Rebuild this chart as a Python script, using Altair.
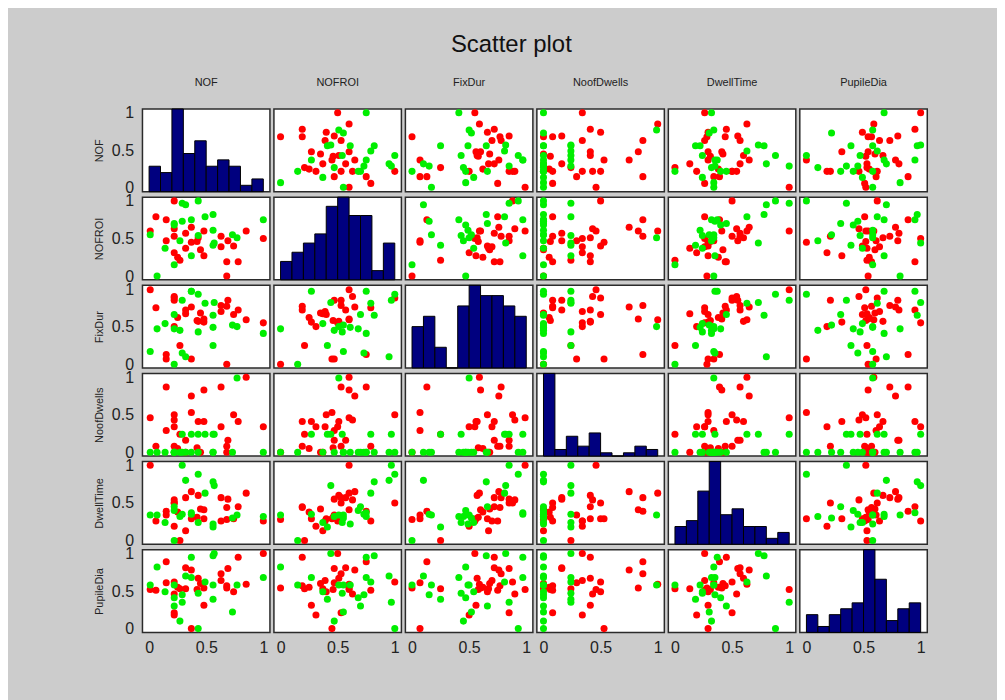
import altair as alt
import pandas as pd

VARS = ["NOF", "NOFROI", "FixDur", "NoofDwells", "DwellTime", "PupileDia"]

# class of each observation: r = red group, g = green group
GROUP = ["r"] * 28 + ["g"] * 22

NOF = [1.00, 0.85, 0.68, 0.78, 0.68, 0.74, 0.63, 0.69, 0.63, 0.48, 0.48, 0.43, 0.37, 0.37,
       0.32, 0.32, 0.27, 0.22, 0.22, 0.22, 0.22, 0.15, 0.15, 0.06, 0.01, 0.25, 0.45, 0.42,
       1.00, 0.77, 0.56, 0.56, 0.56, 0.49, 0.43, 0.43, 0.37, 0.37, 0.27, 0.29, 0.22, 0.22,
       0.14, 0.07, 0.01, 0.73, 0.57, 0.32, 0.29, 0.22]
NOFROI = [0.50, 0.60, 0.00, 0.19, 0.19, 0.40, 0.39, 0.47, 0.53, 0.27, 0.60, 0.51, 0.45, 0.65,
          0.37, 0.57, 0.21, 0.31, 0.53, 0.63, 1.00, 0.47, 0.75, 0.79, 0.60, 0.25, 0.35, 0.46,
          0.75, 0.51, 0.41, 0.61, 0.82, 0.79, 0.54, 1.00, 0.27, 0.75, 0.47, 0.97, 0.15, 0.70,
          0.37, 0.00, 0.55, 0.55, 0.44, 0.95, 0.73, 0.68]
FIXDUR = [0.55, 0.59, 0.00, 0.72, 0.77, 0.66, 0.70, 0.85, 0.78, 0.56, 0.60, 0.57, 0.07, 0.76,
          0.67, 0.72, 0.25, 0.50, 0.85, 0.90, 0.88, 0.07, 0.13, 0.75, 0.99, 0.62, 0.68, 0.58,
          0.41, 0.50, 0.25, 0.49, 0.65, 0.81, 0.43, 0.93, 0.97, 0.97, 0.45, 0.85, 0.00, 0.66,
          0.54, 0.47, 0.17, 0.52, 0.82, 0.10, 0.15, 0.47]
NOOFDWELLS = [0.34, 1.00, 0.00, 0.41, 0.08, 0.50, 0.34, 0.16, 0.87, 0.41, 0.83, 0.41, 0.53, 0.75,
              0.00, 0.16, 0.24, 0.34, 0.08, 0.43, 0.50, 0.29, 0.87, 0.08, 0.46, 0.05, 0.00, 0.06,
              0.00, 0.99, 0.24, 0.00, 0.00, 0.24, 0.24, 0.00, 0.24, 0.00, 0.00, 0.24, 0.00, 0.00,
              0.00, 0.00, 0.00, 0.00, 0.24, 0.00, 0.00, 0.00]
DWELLTIME = [0.26, 0.63, 0.28, 0.45, 0.44, 0.29, 0.26, 0.55, 0.57, 0.29, 0.41, 0.60, 0.29, 0.65,
             0.13, 0.57, 0.00, 0.19, 0.50, 0.54, 0.50, 0.34, 0.39, 0.26, 1.00, 0.38, 0.42, 0.31,
             0.32, 0.34, 0.18, 0.22, 0.78, 0.63, 0.24, 0.88, 0.35, 0.37, 0.32, 1.00, 0.00, 0.45,
             0.24, 0.34, 0.34, 0.30, 0.73, 0.80, 0.35, 0.40]
PUPILEDIA = [1.00, 0.59, 0.54, 0.95, 0.57, 0.49, 0.64, 0.80, 0.73, 0.31, 0.54, 0.67, 0.00, 0.78,
             0.53, 0.81, 0.53, 0.18, 0.21, 0.46, 0.62, 0.61, 0.89, 0.51, 0.52, 0.55, 0.60, 0.52,
             0.68, 0.58, 0.39, 0.58, 0.97, 0.62, 0.47, 0.00, 0.68, 0.95, 0.10, 0.35, 0.58, 0.30,
             0.49, 0.82, 0.58, 0.22, 1.00, 0.70, 0.45, 0.41]

# histogram (diagonal) bin edges and counts
BIN_START = [0.0, 0.1, 0.2, 0.3, 0.4, 0.5, 0.6, 0.7, 0.8, 0.9]
BIN_END = [0.1, 0.2, 0.3, 0.4, 0.5, 0.6, 0.7, 0.8, 0.9, 1.0]
HIST_NOF = [4, 3, 13, 6, 8, 4, 5, 4, 1, 2]
HIST_NOFROI = [2, 3, 4, 5, 8, 9, 7, 7, 1, 4]
HIST_FIXDUR = [4, 5, 2, 0, 6, 8, 7, 7, 6, 5]
HIST_NOOFDWELLS = [25, 2, 6, 3, 7, 1, 0, 1, 3, 2]
HIST_DWELLTIME = [3, 4, 9, 14, 5, 6, 3, 3, 1, 2]
HIST_PUPILEDIA = [3, 1, 3, 4, 5, 14, 9, 2, 4, 5]

TICKS = [0, 0.5, 1]

df = pd.DataFrame({
    "group": GROUP, "NOF": NOF, "NOFROI": NOFROI, "FixDur": FIXDUR,
    "NoofDwells": NOOFDWELLS, "DwellTime": DWELLTIME, "PupileDia": PUPILEDIA,
})
hists = {
    "NOF": HIST_NOF, "NOFROI": HIST_NOFROI, "FixDur": HIST_FIXDUR,
    "NoofDwells": HIST_NOOFDWELLS, "DwellTime": HIST_DWELLTIME, "PupileDia": HIST_PUPILEDIA,
}

W, H = 128, 83
FONT = "Liberation Sans"
TXT = "#222222"
XS = alt.Scale(domain=[-0.058, 1.058], nice=False, zero=False)
YS = alt.Scale(domain=[-0.05, 1.05], nice=False, zero=False)
COLOR = alt.Color("group:N", scale=alt.Scale(domain=["r", "g"], range=["#ff0000", "#00ee00"]),
                  legend=None)


def xaxis():
    return alt.Axis(values=TICKS, format="~g", domain=False, ticks=False, grid=False,
                    labelFontSize=16, labelColor=TXT, labelPadding=7, title=None,
                    labelFont=FONT)


def yaxis(title):
    return alt.Axis(values=TICKS, format="~g", domain=False, ticks=False, grid=False,
                    labelFontSize=16, labelColor=TXT, labelPadding=9, title=title,
                    titleFontSize=11, titleFontWeight="normal", titleColor=TXT,
                    titlePadding=7, titleFont=FONT, labelFont=FONT, orient="left")


def col_title(name, off):
    return alt.TitleParams(text=name, fontSize=11, fontWeight="normal", color=TXT,
                           offset=off, font=FONT, anchor="middle")


def panel(r, c):
    xv, yv = VARS[c], VARS[r]
    if r == c:
        counts = hists[xv]
        hdf = pd.DataFrame({"b0": BIN_START, "b1": BIN_END, "count": counts})
        bars = alt.Chart(hdf).mark_bar(color="#00007f", stroke="#000000", strokeWidth=1).encode(
            x=alt.X("b0:Q", scale=XS, axis=xaxis() if r == 5 else None),
            x2="b1:Q",
            y=alt.Y("count:Q", scale=alt.Scale(domain=[0, max(counts)], nice=False, zero=True),
                    axis=None),
            y2=alt.datum(0),
        )
        if c == 0:
            carrier = alt.Chart(df).mark_point(opacity=0).encode(
                x=alt.X(xv, type="quantitative", scale=XS, axis=None),
                y=alt.Y(yv, type="quantitative", scale=YS, axis=yaxis(yv)),
            )
            ch = alt.layer(bars, carrier).resolve_scale(y="independent")
        else:
            ch = bars
    else:
        ch = alt.Chart(df).mark_circle(size=50, opacity=1).encode(
            x=alt.X(xv, type="quantitative", scale=XS, axis=xaxis() if r == 5 else None),
            y=alt.Y(yv, type="quantitative", scale=YS, axis=yaxis(yv) if c == 0 else None),
            color=COLOR,
        )
    if r == 0:
        ch = ch.properties(width=W, height=H, title=col_title(xv, 17 if c == 0 else 21))
    else:
        ch = ch.properties(width=W, height=H)
    return ch


panels = [panel(r, c) for r in range(6) for c in range(6)]

chart = alt.concat(*panels, columns=6, spacing={"row": 5.5, "column": 4}, bounds="flush").properties(
    title=alt.TitleParams(text="Scatter plot", fontSize=24, fontWeight="normal", color="#111111",
                          font=FONT, anchor="middle", offset=19, dx=1),
    padding={"left": 85, "right": 69, "top": 24, "bottom": 44},
    background="#cccccc",
).configure(font=FONT).configure_view(
    stroke="#2b2b2b", strokeWidth=1.5, fill="white"
)

chart.save("out.html", embed_options={"renderer": "svg", "actions": False})
